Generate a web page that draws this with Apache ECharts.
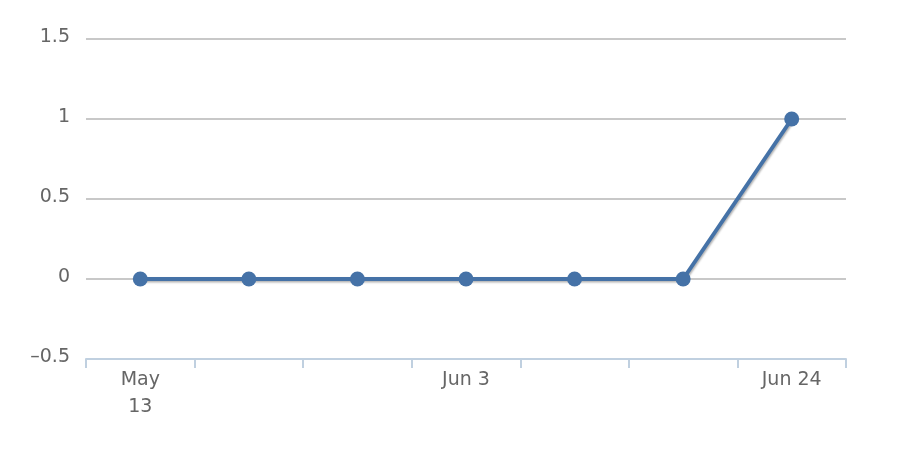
<!DOCTYPE html>
<html><head><meta charset="utf-8">
<script src="https://cdn.jsdelivr.net/npm/echarts@6/dist/echarts.min.js"></script>
<style>html,body{margin:0;padding:0;background:#fff}#c{width:900px;height:459px}</style>
</head><body><div id="c"></div>
<script>
const categories = ["May 13","May 20","May 27","Jun 3","Jun 10","Jun 17","Jun 24"];
const values = [0,0,0,0,0,0,1];
const yTicks = {min:-0.5, max:1.5, interval:0.5};

const chart = echarts.init(document.getElementById('c'));
chart.setOption({
  animation:false,
  grid:{left:86,right:54,top:39,bottom:100,containLabel:false},
  xAxis:{
    type:'category', data:categories, boundaryGap:true,
    axisLine:{onZero:false, lineStyle:{color:'#C0D0E0',width:2}},
    axisTick:{show:true,interval:0,length:9,lineStyle:{color:'#C0D0E0',width:2}},
    axisLabel:{interval:2, color:'#666', fontFamily:'DejaVu Sans', fontSize:19, margin:8, lineHeight:27,
      formatter:(v,i)=> i===0 ? v.replace(' ','\n') : v},
    splitLine:{show:false}
  },
  yAxis:{
    type:'value', min:yTicks.min, max:yTicks.max, interval:yTicks.interval,
    axisLine:{show:false}, axisTick:{show:false},
    axisLabel:{color:'#666', fontFamily:'DejaVu Sans', fontSize:19, margin:16, verticalAlign:'bottom', padding:[0,0,-8,0],
      formatter:v=> v<0 ? '\u2013'+Math.abs(v) : String(v)},
    splitLine:{lineStyle:{color:'#C8C8C8',width:2}}
  },
  series:[{
    type:'line', data:values, symbol:'circle', symbolSize:15,
    itemStyle:{color:'#4572A7'},
    lineStyle:{color:'#4572A7',width:4,shadowColor:'rgba(0,0,0,0.3)',shadowBlur:2,shadowOffsetX:1,shadowOffsetY:1.5}
  }]
});
</script></body></html>
